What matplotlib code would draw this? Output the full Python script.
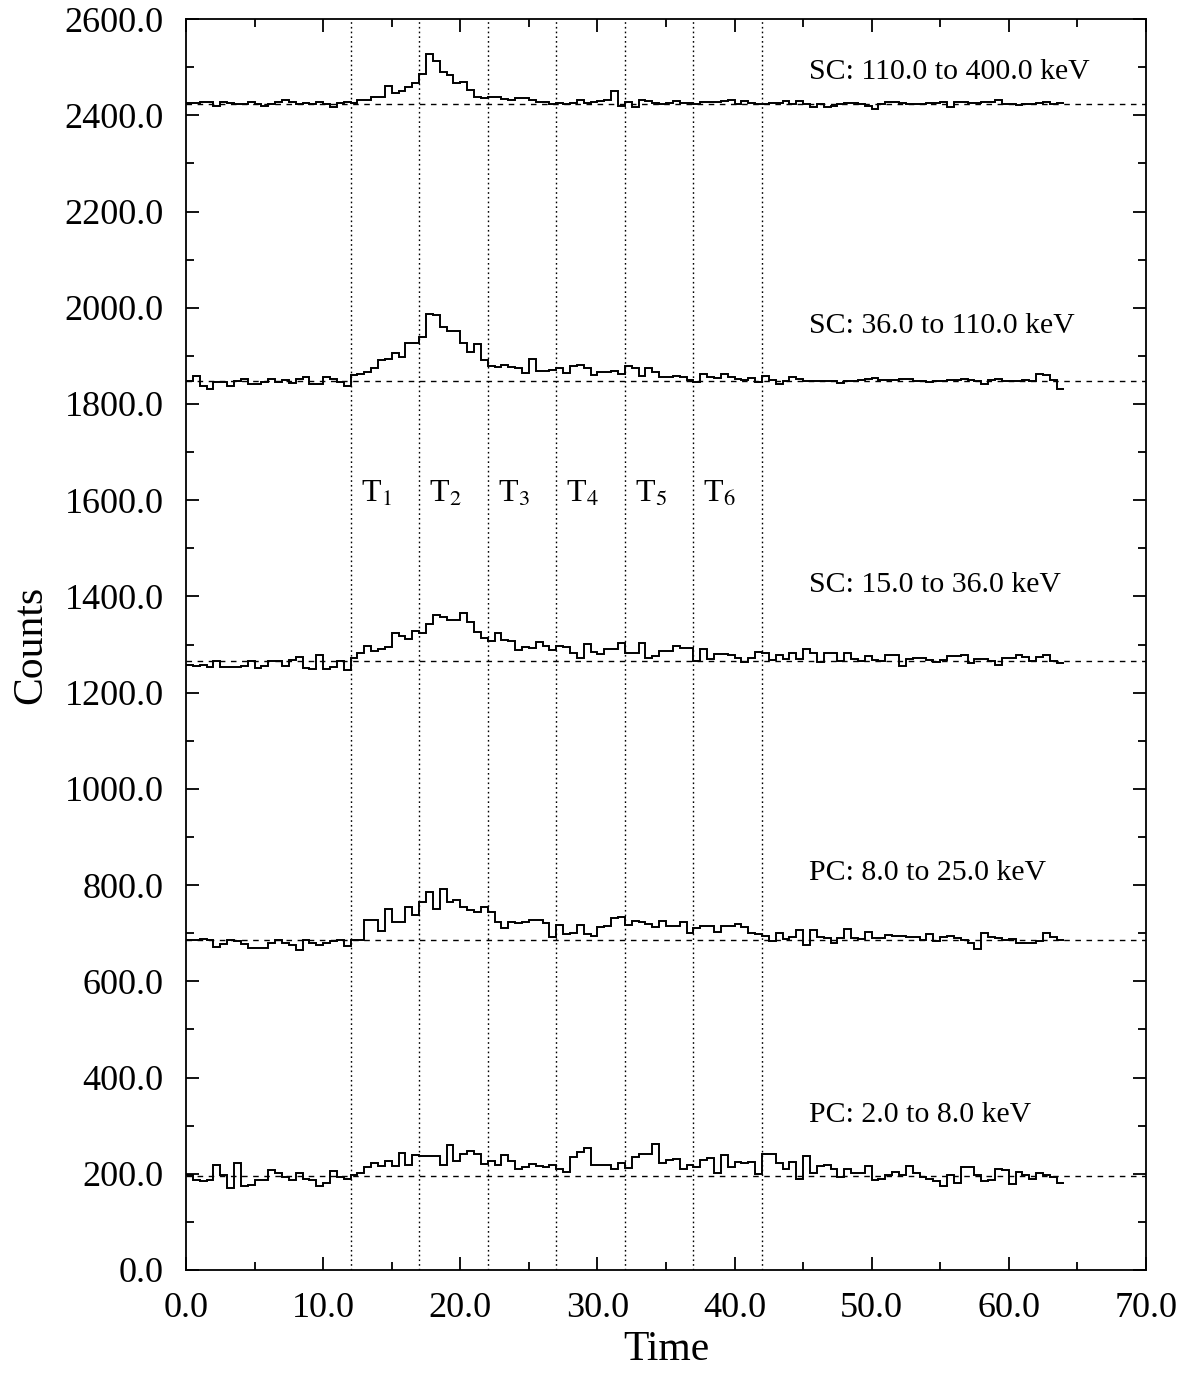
import numpy as np
import matplotlib
matplotlib.use("Agg")
import matplotlib.pyplot as plt
from matplotlib.ticker import MultipleLocator, FormatStrFormatter

plt.rcParams['font.family'] = ['Liberation Serif', 'DejaVu Serif']
plt.rcParams['mathtext.fontset'] = 'stix'

# light curves, 0.5 s bins from 0 to 64 s
bin_width = 0.5
t_end = 64.0

sc_high = [2425, 2425, 2427, 2427, 2419, 2427, 2426, 2424, 2424, 2427, 2423, 2419,
           2424, 2427, 2431, 2427, 2423, 2425, 2423, 2427, 2424, 2417, 2425, 2427,
           2426, 2432, 2432, 2439, 2439, 2460, 2447, 2450, 2459, 2467, 2486, 2528,
           2513, 2490, 2483, 2467, 2469, 2452, 2438, 2436, 2439, 2439, 2434, 2431,
           2436, 2436, 2432, 2427, 2427, 2424, 2425, 2424, 2425, 2432, 2425, 2427,
           2429, 2431, 2450, 2420, 2427, 2417, 2431, 2430, 2425, 2424,
           2425, 2430, 2425, 2425, 2424, 2427, 2427, 2427, 2430, 2431, 2424, 2430,
           2425, 2424, 2424, 2425, 2425, 2430, 2424, 2430, 2423, 2417, 2423, 2417,
           2420, 2424, 2425, 2425, 2423, 2420, 2414, 2424, 2427, 2427, 2425, 2424,
           2423, 2423, 2425, 2425, 2427, 2417, 2427, 2427, 2425, 2425, 2427, 2427,
           2431, 2424, 2423, 2421, 2424, 2424, 2425, 2427, 2424, 2425]

sc_mid = [1848, 1858, 1837, 1832, 1846, 1846, 1837, 1848, 1851, 1841, 1842, 1846,
          1851, 1846, 1849, 1844, 1851, 1856, 1841, 1842, 1855, 1851, 1846, 1837,
          1860, 1862, 1867, 1874, 1892, 1894, 1905, 1898, 1926, 1926, 1939, 1988,
          1985, 1959, 1952, 1952, 1927, 1908, 1924, 1892, 1878, 1876, 1881, 1877,
          1874, 1865, 1894, 1869, 1869, 1870, 1874, 1865, 1878, 1882, 1874, 1860,
          1867, 1867, 1869, 1863, 1878, 1874, 1858, 1875, 1867, 1856,
          1856, 1858, 1856, 1850, 1845, 1863, 1857, 1854, 1862, 1857, 1851, 1850,
          1854, 1845, 1858, 1850, 1842, 1848, 1857, 1851, 1848, 1848, 1847, 1847,
          1848, 1843, 1847, 1848, 1850, 1851, 1854, 1850, 1850, 1850, 1851, 1851,
          1848, 1848, 1845, 1848, 1848, 1850, 1850, 1851, 1849, 1847, 1842, 1850,
          1851, 1848, 1847, 1847, 1850, 1848, 1863, 1860, 1850, 1831]

sc_low = [1258, 1256, 1258, 1254, 1265, 1253, 1253, 1254, 1256, 1265, 1251, 1256,
          1265, 1265, 1256, 1268, 1275, 1251, 1249, 1278, 1249, 1253, 1265, 1246,
          1272, 1282, 1296, 1287, 1290, 1294, 1324, 1317, 1311, 1329, 1324, 1343,
          1361, 1357, 1351, 1351, 1365, 1346, 1325, 1313, 1308, 1324, 1310, 1308,
          1289, 1294, 1292, 1305, 1296, 1289, 1296, 1294, 1282, 1273, 1301, 1285,
          1281, 1290, 1290, 1304, 1283, 1283, 1304, 1272, 1276, 1287,
          1287, 1297, 1292, 1292, 1266, 1290, 1269, 1281, 1280, 1278, 1273, 1263,
          1271, 1285, 1283, 1268, 1278, 1269, 1283, 1269, 1290, 1282, 1263, 1282,
          1282, 1266, 1283, 1269, 1266, 1276, 1268, 1266, 1278, 1278, 1256, 1269,
          1271, 1271, 1268, 1263, 1268, 1276, 1276, 1278, 1261, 1269, 1269, 1266,
          1257, 1271, 1271, 1278, 1275, 1265, 1275, 1278, 1266, 1261]

pc_high = [685, 685, 687, 685, 672, 678, 685, 683, 678, 669, 669, 669,
           679, 685, 680, 676, 665, 685, 680, 676, 679, 683, 686, 674,
           686, 686, 728, 728, 705, 750, 723, 724, 755, 738, 764, 785,
           750, 792, 764, 768, 754, 748, 743, 754, 745, 724, 710, 724,
           722, 724, 728, 728, 722, 693, 717, 698, 701, 716, 698, 694,
           712, 714, 731, 733, 717, 726, 724, 719, 712, 726,
           715, 715, 724, 701, 710, 715, 715, 703, 715, 715, 719, 712,
           701, 698, 694, 683, 700, 687, 693, 707, 676, 707, 693, 689,
           679, 689, 708, 689, 687, 703, 689, 689, 696, 694, 694, 692,
           693, 685, 698, 683, 693, 694, 689, 686, 679, 667, 700, 693,
           689, 686, 687, 680, 680, 680, 683, 700, 693, 686]

pc_low = [198, 187, 184, 188, 218, 197, 170, 222, 175, 177, 188, 188,
          208, 202, 194, 187, 202, 190, 188, 175, 180, 206, 194, 190,
          197, 201, 213, 223, 216, 227, 216, 244, 218, 239, 237, 237,
          236, 218, 260, 227, 241, 248, 241, 220, 227, 218, 239, 227,
          209, 213, 220, 216, 213, 218, 209, 204, 234, 246, 253, 218,
          218, 218, 209, 222, 211, 234, 242, 242, 262, 222,
          229, 230, 209, 218, 213, 229, 232, 202, 239, 213, 225, 222,
          225, 199, 242, 242, 222, 209, 225, 190, 237, 201, 216, 218,
          209, 194, 209, 202, 201, 216, 188, 190, 197, 204, 197, 216,
          202, 194, 190, 184, 175, 197, 180, 213, 213, 197, 184, 186,
          209, 208, 179, 204, 197, 190, 201, 197, 193, 180]

series = [sc_high, sc_mid, sc_low, pc_high, pc_low]
backgrounds = [2424, 1848, 1266, 686, 196]
band_labels = ["SC: 110.0 to 400.0 keV", "SC: 36.0 to 110.0 keV",
               "SC: 15.0 to 36.0 keV", "PC: 8.0 to 25.0 keV", "PC: 2.0 to 8.0 keV"]
label_y = [2490, 1962, 1424, 825, 322]

interval_edges = [12, 17, 22, 27, 32, 37, 42]
interval_names = ["T$_1$", "T$_2$", "T$_3$", "T$_4$", "T$_5$", "T$_6$"]

edges = np.arange(0, t_end + bin_width / 2, bin_width)

fig = plt.figure(figsize=(11.86, 13.81), dpi=100)
ax = fig.add_axes([0.1568, 0.0804, 0.8094, 0.9058])

for counts, bg in zip(series, backgrounds):
    ax.stairs(counts, edges, baseline=None, color='black', lw=1.4)
    ax.axhline(bg, color='black', lw=1.0, ls=(0, (4, 4)))

for x in interval_edges:
    ax.axvline(x, color='black', lw=1.0, ls=(0, (1.2, 2.2)))

for name, x0 in zip(interval_names, interval_edges[:-1]):
    ax.text(x0 + 1.9, 1613, name, ha='center', va='center', fontsize=23)

for text, y in zip(band_labels, label_y):
    ax.text(45.4, y, text, ha='left', va='center', fontsize=21.5)

ax.set_xlim(0, 70)
ax.set_ylim(0, 2600)
ax.xaxis.set_major_locator(MultipleLocator(10))
ax.xaxis.set_minor_locator(MultipleLocator(5))
ax.yaxis.set_major_locator(MultipleLocator(200))
ax.yaxis.set_minor_locator(MultipleLocator(100))
ax.xaxis.set_major_formatter(FormatStrFormatter('%.1f'))
ax.yaxis.set_major_formatter(FormatStrFormatter('%.1f'))
ax.tick_params(which='both', direction='in', top=True, right=True, width=1.3)
ax.tick_params(which='major', length=9.5, labelsize=26, pad=16)
ax.tick_params(which='minor', length=6)
for sp in ax.spines.values():
    sp.set_linewidth(1.3)

ax.set_xlabel("Time", fontsize=30, labelpad=4)
ax.set_ylabel("Counts", fontsize=30, labelpad=10)

fig.savefig("out.png", dpi=100)
